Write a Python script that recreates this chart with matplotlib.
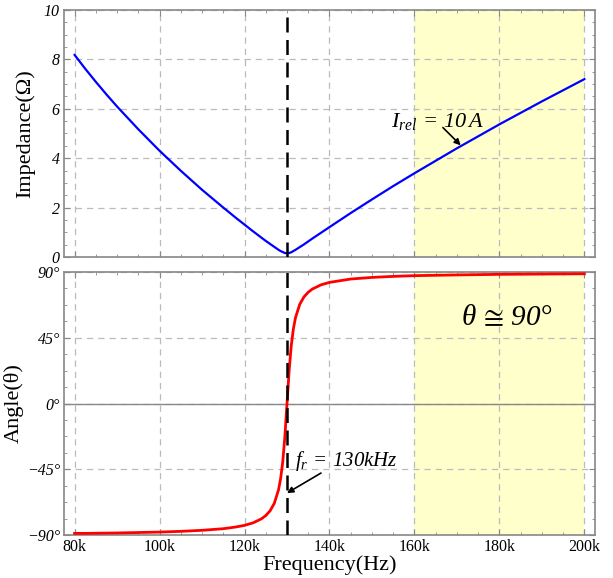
import matplotlib as mpl
mpl.use('Agg')
import matplotlib.pyplot as plt
from matplotlib.ticker import MultipleLocator, FuncFormatter

plt.rcParams['font.family'] = ['Liberation Serif', 'DejaVu Serif']
# all math annotations in the figure are fully italic, digits included
plt.rcParams['mathtext.fontset'] = 'custom'
plt.rcParams['mathtext.rm'] = 'Liberation Serif:italic'
plt.rcParams['mathtext.it'] = 'Liberation Serif:italic'
plt.rcParams['mathtext.fallback'] = 'stix'

# values (kHz, ohm, degree)
freq_khz = [80, 82.5, 85, 87.5, 90, 95, 100, 105, 110, 115, 118, 120, 122, 124,
            125, 126, 127, 128, 128.5, 129, 129.5, 130, 130.5, 131, 131.5, 132,
            133, 134, 135, 136, 138, 140, 145, 150, 155, 160, 170, 180, 190, 200]
impedance = [8.18, 7.62, 7.09, 6.58, 6.09, 5.17, 4.30, 3.49, 2.72, 2.00, 1.58,
             1.31, 1.04, 0.78, 0.65, 0.53, 0.41, 0.29, 0.24, 0.20, 0.16, 0.15,
             0.16, 0.19, 0.24, 0.29, 0.40, 0.51, 0.63, 0.75, 0.98, 1.21, 1.78,
             2.33, 2.87, 3.39, 4.40, 5.37, 6.30, 7.20]
angle = [-88.9, -88.9, -88.8, -88.7, -88.6, -88.3, -88.0, -87.5, -86.8, -85.7,
         -84.5, -83.4, -81.7, -78.9, -76.7, -73.5, -68.4, -59.1, -51.4, -39.8,
         -22.6, 0.0, 22.5, 39.6, 51.1, 58.8, 67.9, 73.0, 76.2, 78.4, 81.2,
         82.9, 85.2, 86.3, 87.0, 87.5, 88.0, 88.4, 88.6, 88.8]
f_res = 130
band = (160, 200)
xticks = [80, 100, 120, 140, 160, 180, 200]

fig = plt.figure(figsize=(6.13, 5.78), dpi=100)
ax1 = fig.add_axes([0.1044, 0.5554, 0.8662, 0.4273])
ax2 = fig.add_axes([0.1044, 0.0744, 0.8662, 0.4550])

frame = '#888888'
grid = dict(color='#bbbbbb', ls=(0, (5, 4)), lw=0.9)
for ax in (ax1, ax2):
    ax.set_xlim(77.5, 202.5)
    ax.axvspan(band[0], band[1], color='#ffffcc', zorder=0, lw=0)
    for s in ax.spines.values():
        s.set_color(frame)
        s.set_linewidth(1.2)
    ax.xaxis.set_major_locator(MultipleLocator(20))
    ax.xaxis.set_minor_locator(MultipleLocator(5))
    ax.tick_params(which='both', direction='in', top=True, right=True,
                   color=frame, labelsize=11.5, pad=3)
    ax.tick_params(which='major', length=4)
    ax.tick_params(which='minor', length=2.5)
    ax.grid(True, axis='x', **grid)
    ax.axvline(f_res, color='k', lw=1.8, ls=(0, (6, 3)), zorder=4)

# impedance
ax1.plot(freq_khz, impedance, color='#0000ff', lw=1.6, zorder=3)
ax1.set_ylim(0, 10)
ax1.yaxis.set_major_locator(MultipleLocator(2))
ax1.yaxis.set_minor_locator(MultipleLocator(0.5))
ax1.grid(True, axis='y', **grid)
ax1.set_xticklabels([])
ax1.set_ylabel('Impedance(Ω)', fontsize=16, labelpad=6)
ax1.text(154.5, 5.28, r'$I_{rel}\,=\,10\,A$', fontsize=16,
         ha='left', va='baseline', zorder=5)
ax1.annotate('', xy=(170.9, 4.52), xytext=(166.7, 5.24),
             arrowprops=dict(arrowstyle='-|>', color='k', lw=1.2,
                             mutation_scale=9, shrinkA=0, shrinkB=0))

# angle
ax2.plot(freq_khz, angle, color='#ff0000', lw=2, zorder=3)
ax2.set_ylim(-90, 90)
ax2.yaxis.set_major_locator(MultipleLocator(45))
ax2.yaxis.set_minor_locator(MultipleLocator(11.25))
ax2.yaxis.set_major_formatter(FuncFormatter(
    lambda v, p: '{}°'.format(int(v)).replace('-', '\u2212')))
ax2.axhline(0, color=frame, lw=1, zorder=2)
ax2.grid(True, axis='y', **grid)
ax2.set_xticks(xticks)
ax2.set_xticklabels(['{}k'.format(x) for x in xticks])
ax2.set_ylabel('Angle(θ)', fontsize=16, labelpad=2)
ax2.set_xlabel('Frequency(Hz)', fontsize=16, labelpad=0)
ax2.text(131.9, -42.8, r'$f_r\,=\,130kHz$', fontsize=15,
         ha='left', va='baseline', zorder=5)
ax2.annotate('', xy=(130.0, -61.3), xytext=(138.0, -47.6),
             arrowprops=dict(arrowstyle='-|>', color='k', lw=1.2,
                             mutation_scale=9, shrinkA=0, shrinkB=0))
ax2.text(181.8, 53.7, r'$\theta\,\cong\,90°$', fontsize=21,
         ha='center', va='baseline', zorder=5)

for ax in (ax1, ax2):
    for lab in ax.get_yticklabels():
        lab.set_fontstyle('italic')

fig.savefig('out.png', dpi=100)
